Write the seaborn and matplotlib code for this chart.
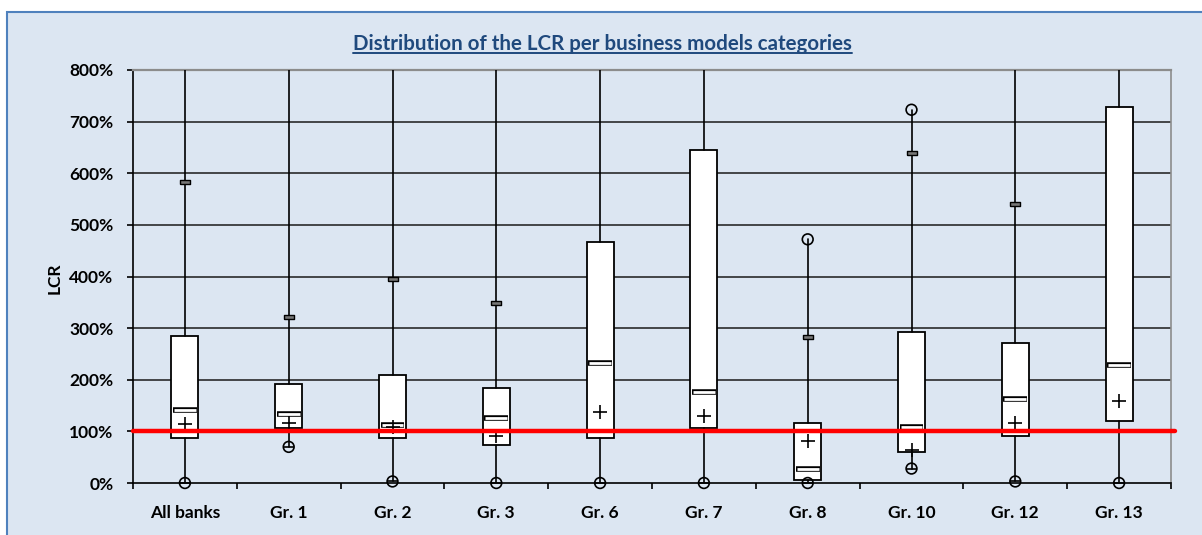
import numpy as np
import matplotlib.pyplot as plt
import seaborn as sns
from matplotlib.patches import Rectangle
from matplotlib.lines import Line2D
from matplotlib.ticker import FuncFormatter, FixedLocator

# === Data (LCR in %) ===
groups = ["All banks", "Gr. 1", "Gr. 2", "Gr. 3", "Gr. 6", "Gr. 7", "Gr. 8", "Gr. 10", "Gr. 12", "Gr. 13"]
q1 = [87, 106, 87, 74, 87, 107, 6, 60, 92, 121]
q3 = [284, 192, 209, 184, 467, 645, 117, 292, 272, 728]
medians = [142, 134, 112, 126, 232, 177, 27, 108, 163, 229]
means = [114, 117, 109, 91, 138, 129, 82, 63, 117, 159]
mins = [0, 70, 3, 0, 0, 0, 0, 28, 3, 0]
maxs = [800, 800, 800, 800, 800, 800, 472, 723, 800, 800]  # 800 = beyond the axis
max_shown = [np.nan, np.nan, np.nan, np.nan, np.nan, np.nan, 472, 723, np.nan, np.nan]
p95 = [583, 322, 395, 349, np.nan, np.nan, 282, 639, 541, np.nan]

BG = "#DCE6F2"

sns.set_theme(style="white")
plt.rcParams["font.family"] = ["Lato", "DejaVu Sans"]

fig = plt.figure(figsize=(12.02, 5.35), dpi=100)
fig.patch.set_facecolor("white")
fig.add_artist(Rectangle((7 / 1202, -0.01), 1.0, 1 - 12 / 535 + 0.01, transform=fig.transFigure,
                         facecolor=BG, edgecolor="#4F81BD", lw=1.5, zorder=-10))

ax = fig.add_axes([133 / 1202, 1 - 483 / 535, (1171 - 133) / 1202, (483 - 70) / 535])
ax.set_facecolor(BG)
pos = np.arange(len(groups))

# === Boxes and whiskers ===
stats = [dict(med=m, q1=a, q3=b, whislo=lo, whishi=hi, label=g)
         for g, m, a, b, lo, hi in zip(groups, medians, q1, q3, mins, maxs)]
ax.bxp(stats, positions=pos, widths=0.26, patch_artist=True, showcaps=False, showfliers=False,
       boxprops=dict(facecolor="white", edgecolor="black", lw=1.3),
       whiskerprops=dict(color="black", lw=1.2),
       medianprops=dict(lw=0), zorder=3)

# median drawn as a thin hollow bar
ax.hlines(medians, pos - 0.115, pos + 0.115, color="black", lw=4.0, zorder=4)
ax.hlines(medians, pos - 0.105, pos + 0.105, color="white", lw=2.0, zorder=5)

# means
sns.scatterplot(x=pos, y=means, marker="+", s=90, color="black", linewidth=1.2, ax=ax, zorder=7)

# minimum (circle with bar) and maximum circles
sns.scatterplot(x=pos, y=mins, marker="o", s=60, facecolors="none", edgecolor="black",
                linewidth=1.2, ax=ax, zorder=6, clip_on=False)
sns.scatterplot(x=pos, y=mins, marker="_", s=60, color="black", linewidth=1.2, ax=ax, zorder=6, clip_on=False)
sns.scatterplot(x=pos, y=max_shown, marker="o", s=60, facecolors="none", edgecolor="black",
                linewidth=1.2, ax=ax, zorder=6)

# upper percentile dash
rect = [(-1, -0.35), (1, -0.35), (1, 0.35), (-1, 0.35), (-1, -0.35)]
sns.scatterplot(x=pos, y=p95, marker=rect, s=60, color="#777777", edgecolor="black",
                linewidth=1.0, ax=ax, zorder=6)

# 100% threshold
ax.axhline(101, xmin=0, xmax=1.004, color="#FF0000", lw=3.2, zorder=8, clip_on=False)

# === Axes styling ===
ax.set_xlim(-0.5, 9.5)
ax.set_ylim(0, 800)
ax.set_yticks(np.arange(0, 801, 100))
ax.yaxis.set_major_formatter(FuncFormatter(lambda v, p: f"{v:.0f}%"))
ax.set_xticks(pos)
ax.set_xticklabels(groups)
ax.xaxis.set_minor_locator(FixedLocator(np.arange(-0.5, 10, 1)))
ax.tick_params(axis="x", which="major", length=0, pad=16)
ax.tick_params(axis="x", which="minor", length=4, width=1.2, color="black", direction="out", bottom=True)
ax.tick_params(axis="y", length=4, width=1.2, color="black", direction="out", left=True, pad=10)
for lab in ax.get_xticklabels() + ax.get_yticklabels():
    lab.set_fontweight("bold")
    lab.set_fontsize(12.5)
    lab.set_color("black")

for y in range(100, 800, 100):
    ax.axhline(y, color="#1a1a1a", lw=1.1, zorder=1)
ax.spines["left"].set_color("black")
ax.spines["left"].set_linewidth(1.2)
ax.spines["bottom"].set_color("black")
ax.spines["bottom"].set_linewidth(1.2)
ax.spines["top"].set_color("#8c8c8c")
ax.spines["top"].set_linewidth(1.6)
ax.spines["right"].set_color("#8c8c8c")
ax.spines["right"].set_linewidth(1.2)
ax.set_xlabel("")
ax.set_ylabel("")

fig.text(55 / 1202, 1 - 278 / 535, "LCR", rotation=90, ha="center", va="center",
         fontsize=12.5, fontweight="bold", color="black")

title = fig.text(0.501, 1 - 44 / 535, "Distribution of the LCR per business models categories",
                 ha="center", va="center", fontsize=14.8, fontweight="bold", color="#1F497D")
fig.canvas.draw()
bb = title.get_window_extent().transformed(fig.transFigure.inverted())
fig.add_artist(Line2D([bb.x0, bb.x1], [bb.y0 + 0.002, bb.y0 + 0.002], transform=fig.transFigure,
                      color="#1F497D", lw=1.4))

fig.savefig("out.png", dpi=100, facecolor=fig.get_facecolor())
